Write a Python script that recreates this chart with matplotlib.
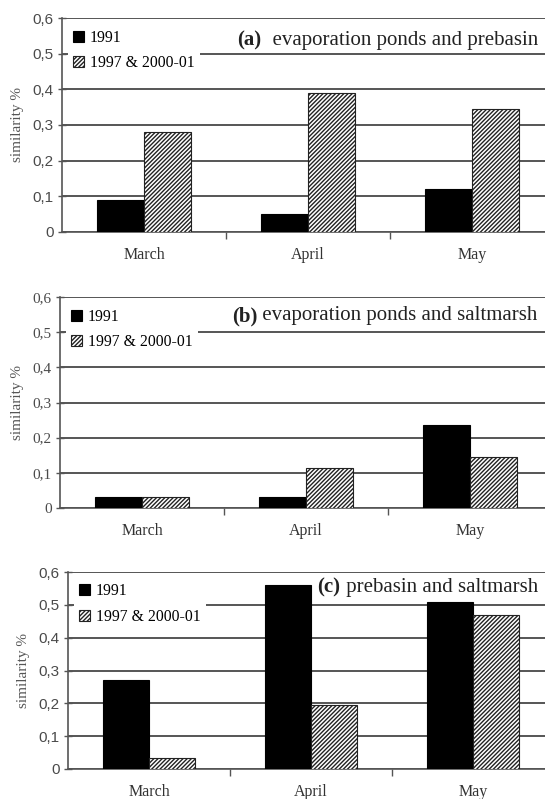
import matplotlib
matplotlib.use("Agg")
import matplotlib.pyplot as plt
import numpy as np

months = ["March", "April", "May"]
series_names = ["1991", "1997 & 2000-01"]
title_tags = ["(a)", "(b)", "(c)"]
title_texts = ["  evaporation ponds and prebasin",
               " evaporation ponds and saltmarsh",
               " prebasin and saltmarsh"]
vals_1991 = [[0.09, 0.05, 0.12],
             [0.03, 0.03, 0.235],
             [0.27, 0.56, 0.51]]
vals_later = [[0.28, 0.39, 0.345],
              [0.03, 0.115, 0.145],
              [0.035, 0.195, 0.47]]
yticks = [0, 0.1, 0.2, 0.3, 0.4, 0.5, 0.6]
ytick_labels = ["0", "0,1", "0,2", "0,3", "0,4", "0,5", "0,6"]

W, H = 545, 799
fig = plt.figure(figsize=(W / 100, H / 100), dpi=100)

# (left px, top px, bottom px, category width px)
layout = [(62, 18, 232, 164), (60, 297, 508, 164), (68, 572, 769, 162)]
tick_fonts = ["Liberation Sans", "Liberation Serif", "Liberation Sans"]
title_y = [0.895, 0.91, 0.92]

plt.rcParams['hatch.linewidth'] = 1.0
plt.rcParams['hatch.color'] = '#2a2a2a'

for i in range(3):
    left, top, bot, cw = layout[i]
    ax = fig.add_axes([left / W, 1 - bot / H, (W - left) / W, (bot - top) / H])
    x = np.arange(len(months))
    bw = 0.285
    ax.bar(x - bw / 2, vals_1991[i], bw, color='black', edgecolor='black',
           linewidth=0.8, zorder=3, label=series_names[0])
    ax.bar(x + bw / 2, vals_later[i], bw, color='white', edgecolor='#222222',
           hatch='////////', linewidth=0.8, zorder=3, label=series_names[1])
    ax.set_xlim(-0.5, -0.5 + (W - left) / cw)
    ax.set_ylim(0, 0.6)
    ax.set_yticks(yticks)
    ax.set_yticklabels(ytick_labels, fontfamily=tick_fonts[i], fontsize=11,
                       color='#4a4a4a')
    ax.set_xticks(x)
    ax.set_xticklabels(months, fontfamily='Liberation Serif', fontsize=11.5,
                       color='#333333')
    ax.tick_params(axis='x', which='major', length=0, pad=11)
    ax.set_xticks([0.5, 1.5], minor=True)
    ax.tick_params(axis='x', which='minor', length=5, direction='out',
                   color='#555555', width=1)
    ax.tick_params(axis='y', length=6, direction='inout', color='#555555',
                   width=1, pad=3)
    ax.grid(axis='y', color='#555555', linewidth=1.4, zorder=0)
    ax.set_axisbelow(True)
    for s in ['top', 'right']:
        ax.spines[s].set_visible(False)
    for s in ['left', 'bottom']:
        ax.spines[s].set_color('#555555')
        ax.spines[s].set_linewidth(1.2)
    ax.set_ylabel("similarity %", fontfamily='Liberation Serif', fontsize=11,
                  color='#555555', labelpad=6)
    leg = ax.legend(loc='upper left', bbox_to_anchor=(0.012, 0.97),
                    prop={'family': 'Liberation Serif', 'size': 11.3},
                    frameon=True, fancybox=False, facecolor='white',
                    edgecolor='none', framealpha=1, handlelength=0.7,
                    handleheight=0.7, handletextpad=0.35, labelspacing=0.6,
                    borderpad=0.35, borderaxespad=0)
    leg.set_zorder(5)
    t = ax.annotate(title_texts[i], xy=(0.985, title_y[i]),
                    xycoords='axes fraction', ha='right', va='center',
                    fontfamily='Liberation Serif', fontsize=15,
                    color='#222222', zorder=6)
    ax.annotate(title_tags[i], xy=(0, 0.5), xycoords=t, ha='right',
                va='center', fontfamily='Liberation Serif', fontsize=15,
                fontweight='bold', color='#222222', zorder=6)

fig.savefig("out.png", dpi=100)
